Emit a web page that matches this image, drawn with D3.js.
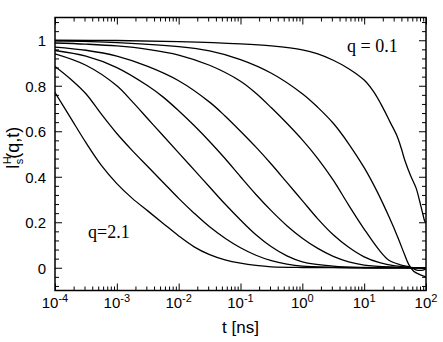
<!DOCTYPE html>
<html>
<head>
<meta charset="UTF-8">
<title>I_s^H(q,t)</title>
<script src="https://cdnjs.cloudflare.com/ajax/libs/d3/7.8.5/d3.min.js"></script>
<style>
  body { margin: 0; background: #fff; }
  svg { display: block; }
  .tick line { stroke: #000; stroke-width: 1; }
  .axis text, text.sans { font-family: "Liberation Sans", Arial, sans-serif; }
</style>
</head>
<body>
<svg id="chart"></svg>
<script>
// each curve: [log10(t in ns), I] (fast q=2.1 first, q=0.1 last)
var c1 = [[-4,0.77],[-3.75,0.66],[-3.5,0.55],[-3.25,0.45],[-3,0.37],[-2.75,0.305],[-2.5,0.25],[-2.25,0.195],[-2,0.14],[-1.75,0.092],[-1.5,0.058],[-1.25,0.035],[-1,0.02],[-0.75,0.01],[-0.5,0.004],[0,0.001],[1,0],[2,0]];
var c2 = [[-4,0.885],[-3.75,0.83],[-3.5,0.765],[-3.25,0.675],[-3,0.59],[-2.75,0.515],[-2.5,0.445],[-2.25,0.375],[-2,0.305],[-1.75,0.24],[-1.5,0.18],[-1.25,0.13],[-1,0.088],[-0.75,0.055],[-0.5,0.031],[-0.25,0.016],[0,0.007],[0.5,0.002],[1,0],[2,0]];
var c3 = [[-4,0.94],[-3.5,0.89],[-3,0.8],[-2.75,0.73],[-2.5,0.655],[-2.25,0.58],[-2,0.505],[-1.75,0.43],[-1.5,0.355],[-1.25,0.28],[-1,0.21],[-0.75,0.145],[-0.5,0.092],[-0.25,0.052],[0,0.026],[0.5,0.007],[1,0.001],[2,0]];
var c4 = [[-4,0.955],[-3.5,0.93],[-3,0.88],[-2.5,0.8],[-2.25,0.75],[-2,0.69],[-1.75,0.625],[-1.5,0.555],[-1.25,0.48],[-1,0.40],[-0.75,0.322],[-0.5,0.25],[-0.25,0.185],[0,0.13],[0.25,0.085],[0.5,0.05],[0.75,0.026],[1,0.012],[1.5,0.003],[2,0]];
var c5 = [[-4,0.97],[-3.5,0.956],[-3,0.93],[-2.5,0.885],[-2,0.822],[-1.5,0.728],[-1.25,0.667],[-1,0.60],[-0.75,0.53],[-0.5,0.455],[-0.25,0.375],[0,0.295],[0.25,0.215],[0.5,0.145],[0.75,0.09],[1,0.048],[1.25,0.022],[1.5,0.008],[1.75,0.002],[2,0]];
var c6 = [[-4,0.988],[-3.5,0.983],[-3,0.975],[-2.5,0.96],[-2,0.935],[-1.5,0.89],[-1,0.82],[-0.75,0.767],[-0.5,0.703],[-0.25,0.635],[0,0.562],[0.25,0.48],[0.5,0.385],[0.75,0.275],[1,0.17],[1.25,0.075],[1.4,0.033],[1.6,0.012],[1.75,0.002],[1.85,-0.01],[1.95,-0.01],[2,-0.005]];
var c7 = [[-4,0.997],[-3,0.99],[-2,0.972],[-1.5,0.953],[-1,0.915],[-0.5,0.855],[0,0.765],[0.25,0.705],[0.5,0.635],[0.75,0.545],[1,0.44],[1.2,0.34],[1.4,0.225],[1.55,0.13],[1.65,0.06],[1.72,0.015],[1.8,-0.015],[1.9,-0.03],[2,-0.04]];
var c8 = [[-4,1.0],[-3,0.999],[-2,0.994],[-1,0.984],[-0.5,0.975],[0,0.958],[0.25,0.94],[0.5,0.912],[0.75,0.875],[1,0.825],[1.15,0.775],[1.3,0.705],[1.42,0.64],[1.53,0.58],[1.6,0.525],[1.66,0.47],[1.75,0.405],[1.84,0.35],[1.9,0.29],[1.95,0.235],[1.98,0.205],[2,0.2]];
var curves = [c1, c2, c3, c4, c5, c6, c7, c8];

var xDecades = [-4, -3, -2, -1, 0, 1, 2];
var yMajor = [0, 0.2, 0.4, 0.6, 0.8, 1];
var yLabels = ["0", "0.2", "0.4", "0.6", "0.8", "1"];

var svgWidth = 443, svgHeight = 342;
var margin = { top: 17.5, right: 17, bottom: 51.5, left: 55 };
var width = svgWidth - margin.left - margin.right;
var height = svgHeight - margin.top - margin.bottom;

var svg = d3.select("#chart")
    .attr("width", svgWidth)
    .attr("height", svgHeight);

var g = svg.append("g")
    .attr("transform", "translate(" + margin.left + "," + margin.top + ")");

var x = d3.scaleLog().domain([1e-4, 1e2]).range([0, width]);
var y = d3.scaleLinear().domain([-0.1, 1.1]).range([height, 0]);

var allX = x.ticks();
var xMaj = xDecades.map(function (e) { return Math.pow(10, e); });
var xMin = allX.filter(function (t) { return Math.abs(Math.log10(t) - Math.round(Math.log10(t))) > 1e-6; });
var yMin = d3.range(-0.08, 1.1, 0.04).filter(function (v) {
    return Math.abs(v * 5 - Math.round(v * 5)) > 1e-6;
});

function axisGroup(axis, cls, tr) {
    var a = g.append("g").attr("class", "axis " + cls);
    if (tr) a.attr("transform", tr);
    a.call(axis);
    a.select(".domain").remove();
    return a;
}

// inward ticks on all four sides
axisGroup(d3.axisBottom(x).tickValues(xMaj).tickSize(-7).tickFormat(""), "xb", "translate(0," + height + ")");
axisGroup(d3.axisBottom(x).tickValues(xMin).tickSize(-4).tickFormat(""), "xb2", "translate(0," + height + ")");
axisGroup(d3.axisTop(x).tickValues(xMaj).tickSize(-7).tickFormat(""), "xt");
axisGroup(d3.axisTop(x).tickValues(xMin).tickSize(-4).tickFormat(""), "xt2");
axisGroup(d3.axisLeft(y).tickValues(yMin).tickSize(-4).tickFormat(""), "yl2");
axisGroup(d3.axisRight(y).tickValues(yMin).tickSize(-4).tickFormat(""), "yr2", "translate(" + width + ",0)");
axisGroup(d3.axisRight(y).tickValues(yMajor).tickSize(-7).tickFormat(""), "yr", "translate(" + width + ",0)");

var yl = axisGroup(d3.axisLeft(y).tickValues(yMajor).tickSize(-7).tickPadding(9)
    .tickFormat(function (d, i) { return yLabels[i]; }), "yl");
yl.selectAll("text")
    .attr("fill", "#000")
    .attr("font-size", "15px")
    .attr("dy", "0.35em");

// x tick labels 10^n
var xl = g.append("g").attr("class", "axis");
xDecades.forEach(function (e) {
    var t = xl.append("text")
        .attr("x", x(Math.pow(10, e)))
        .attr("y", height + 17)
        .attr("text-anchor", "middle")
        .attr("font-size", "15px")
        .attr("fill", "#000");
    t.append("tspan").text("10");
    t.append("tspan").attr("dy", "-6").attr("font-size", "11px").text(e < 0 ? "-" + (-e) : String(e));
});

g.append("clipPath").attr("id", "clip")
    .append("rect").attr("width", width).attr("height", height);

var line = d3.line()
    .x(function (d) { return x(Math.pow(10, d[0])); })
    .y(function (d) { return y(d[1]); })
    .curve(d3.curveCatmullRom.alpha(0.5));

g.append("g").attr("clip-path", "url(#clip)")
    .selectAll("path")
    .data(curves)
    .enter().append("path")
    .attr("fill", "none")
    .attr("stroke", "#000")
    .attr("stroke-width", 1.3)
    .attr("stroke-linejoin", "round")
    .attr("d", line);

// frame
g.append("rect")
    .attr("width", width)
    .attr("height", height)
    .attr("fill", "none")
    .attr("stroke", "#000")
    .attr("stroke-width", 1.5);

// axis titles
g.append("text")
    .attr("class", "sans")
    .attr("x", width / 2)
    .attr("y", height + 42)
    .attr("text-anchor", "middle")
    .attr("font-size", "17px")
    .text("t [ns]");

var yt = svg.append("text")
    .attr("class", "sans")
    .attr("transform", "translate(19,148) rotate(-90)")
    .attr("text-anchor", "middle")
    .attr("font-size", "18px");
yt.append("tspan").text("I");
yt.append("tspan").attr("dy", "-8").attr("font-size", "11px").text("H");
yt.append("tspan").attr("dx", "-8").attr("dy", "12").attr("font-size", "11px").text("s");
yt.append("tspan").attr("dy", "-4").text("(q,t)");

// curve annotations
g.append("text")
    .attr("x", 292)
    .attr("y", 34)
    .attr("font-family", "Liberation Serif, Times New Roman, serif")
    .attr("font-size", "18px")
    .text("q = 0.1");
g.append("text")
    .attr("x", 33)
    .attr("y", 220)
    .attr("font-family", "Liberation Serif, Times New Roman, serif")
    .attr("font-size", "18px")
    .text("q=2.1");
</script>
</body>
</html>
